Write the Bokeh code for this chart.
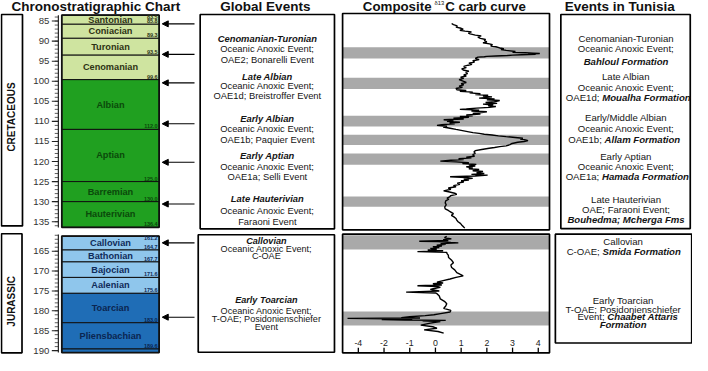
import math
from bokeh.plotting import figure
from bokeh.layouts import column
from bokeh.models import Range1d, Arrow, NormalHead, ColumnDataSource
from bokeh.core.properties import value
from bokeh.embed import file_html
from bokeh.resources import INLINE

# ---------------- data ----------------
cret_stages = ["Santonian", "Coniacian", "Turonian", "Cenomanian",
               "Albian", "Aptian", "Barremian", "Hauterivian"]
cret_top = [83.5, 85.8, 89.3, 93.5, 99.6, 112.0, 125.0, 130.0]
cret_base = [85.8, 89.3, 93.5, 99.6, 112.0, 125.0, 130.0, 136.4]
cret_base_labels = ["85.8", "89.3", "93.5", "99.6", "112.0", "125.0", "130.0", "136.4"]

jur_stages = ["Callovian", "Bathonian", "Bajocian", "Aalenian",
              "Toarcian", "Pliensbachian", ""]
jur_top = [161.2, 164.7, 167.7, 171.6, 175.6, 183.0, 189.6]
jur_base = [164.7, 167.7, 171.6, 175.6, 183.0, 189.6, 190.5]
jur_base_labels = ["164.7", "167.7", "171.6", "175.6", "183.0", "189.6", ""]

cret_ticks = [85, 90, 95, 100, 105, 110, 115, 120, 125, 130, 135]
jur_ticks = [165, 170, 175, 180, 185, 190]

cret_arrow_ages = [85.7, 93.3, 100.4, 110.6, 120.2, 130.6]
jur_arrow_ages = [162.9, 181.6]

cret_band_top = [91.5, 99.1, 108.6, 113.3, 118.0, 128.7]
cret_band_base = [94.3, 101.9, 111.3, 115.9, 120.8, 131.3]
jur_band_top = [161.0, 180.2]
jur_band_base = [164.6, 183.7]

d13c_ticks = [-3, -2, -1, 0, 1, 2, 3, 4]
d13c_tick_labels = ["-4", "-2", "-1", "0", "1", "2", "3", "4"]

cret_age = [
    85.6, 85.9, 86.2, 86.5, 86.8, 87.0, 87.3, 87.5, 87.7, 88.0, 88.2, 88.5, 88.7, 89.0,
    89.3, 89.6, 89.9, 90.2, 90.4, 90.7, 90.9, 91.2, 91.4, 91.7, 91.9, 92.1, 92.3, 92.6,
    92.8, 92.9, 93.0, 93.1, 93.2, 93.3, 93.4, 93.5, 93.6, 93.7, 93.8, 93.9, 94.0,
    94.3, 94.6, 94.9, 95.2, 95.5, 95.8, 96.0, 96.3, 96.6, 96.9, 97.2, 97.5, 97.8, 98.1,
    98.4, 98.7, 99.0, 99.3, 99.6, 99.9, 100.3, 100.6, 100.9, 101.2, 101.5, 101.8, 102.1,
    102.3, 102.5, 102.7, 102.9, 103.1, 103.3, 103.5, 103.7, 103.9, 104.2, 104.4, 104.6,
    104.8, 105.1, 105.3, 105.5, 105.7, 105.9, 106.1, 106.3, 106.5, 106.7, 106.9, 107.0,
    107.2, 107.4, 107.6, 107.8, 108.0, 108.2, 108.4, 108.6, 108.8, 109.0, 109.2, 109.4,
    109.6, 109.8, 110.0, 110.2, 110.4, 110.6, 110.8, 111.0, 111.2, 111.4, 111.7, 112.0,
    112.3, 112.6, 112.8, 113.0, 113.2, 113.4, 113.6, 113.8, 114.0, 114.2, 114.4, 114.6,
    114.8, 115.0, 115.2, 115.5, 115.8, 116.1, 116.3, 116.5, 116.7, 117.0, 117.3, 117.6,
    118.0, 118.3, 118.7,
    118.9, 119.1, 119.3, 119.5, 119.7, 119.9, 120.1, 120.3, 120.5, 120.7, 120.9, 121.1,
    121.3, 121.6, 121.8, 122.0, 122.3, 122.5, 122.8, 123.0, 123.2, 123.4, 123.6, 123.8,
    124.0, 124.2, 124.4, 124.6, 124.8, 125.1, 125.4, 125.7, 126.0, 126.3, 126.6, 126.9,
    127.3, 127.6, 127.9, 128.2, 128.5, 128.8, 129.1, 129.4,
    129.8, 130.3, 130.8, 131.3, 131.8, 132.2, 132.6, 133.0, 133.4, 133.8, 134.2, 134.6,
    135.0, 135.4, 135.8, 136.2, 136.6]
cret_d13c = [
    0.63, 0.70, 0.85, 0.80, 1.00, 1.08, 0.95, 1.15, 1.40, 1.28, 1.35, 1.55, 1.78, 1.65,
    1.75, 1.95, 1.90, 2.00, 1.85, 2.10, 2.22, 2.15, 2.35, 2.50, 2.66, 2.55, 2.75, 3.11,
    3.00, 3.50, 3.80, 4.06, 3.60, 3.90, 3.35, 3.00, 2.80, 2.35, 2.00, 1.90, 1.65,
    1.55, 1.70, 1.45, 1.52, 1.30, 1.42, 1.27, 1.10, 1.20, 1.02, 1.08, 1.30, 1.18, 1.25,
    1.10, 1.20, 0.98, 1.10, 0.92, 1.05, 1.20, 1.00, 1.10, 0.92, 1.05, 0.80, 0.83,
    1.20, 0.95, 1.45, 1.33, 1.75, 1.55, 2.05, 1.85, 2.20, 1.70, 2.30, 2.00,
    2.50, 2.30, 1.95, 2.40, 1.85, 2.25, 2.05, 2.35, 2.10, 1.60, 1.20, 0.95,
    1.70, 1.40, 2.00, 1.80, 1.45, 1.75, 1.20, 1.45, 0.95, 1.30, 0.70, 1.10,
    0.32, 0.70, 0.45, 0.95, 0.55, 0.75, 0.25, 0.06, 0.45, 0.30, 0.57, 0.80,
    1.05, 1.30, 1.46, 1.70, 1.90, 2.20, 2.45, 2.75, 3.10, 3.40, 3.30, 3.50,
    3.60, 3.45, 3.20, 2.98, 2.90, 2.75, 2.50, 2.30, 2.09, 1.80, 1.55, 1.50,
    1.55, 1.45, 1.52,
    1.20, 1.40, 0.90, 1.10, 0.60, 0.19, 0.80, 1.30, 1.05, 1.59, 1.30, 1.55,
    1.20, 1.45, 1.30, 1.70, 1.45, 1.85, 1.60, 1.90, 1.40, 2.03, 1.55, 0.57,
    1.20, 1.45, 1.10, 1.30, 1.00, 1.10, 0.85, 0.95, 0.70, 0.80, 0.50, 0.60,
    0.32, 0.55, 0.75, 0.83, 0.60, 0.55, 0.45, 0.52,
    0.40, 0.38, 0.42, 0.36, 0.38, 0.50, 0.60, 0.70, 0.62, 0.72, 0.80, 0.83,
    0.88, 0.97, 1.02, 1.08, 1.14]

jur_age = [
    161.3, 161.6, 161.9, 162.1, 162.3, 162.5, 162.6, 162.8, 162.9, 163.1, 163.3, 163.5,
    163.7, 163.9, 164.1, 164.3, 164.5, 164.7, 164.9, 165.1, 165.3, 165.6, 166.0, 166.6,
    167.2, 167.9, 168.5, 169.1, 169.7, 170.4, 170.8, 171.2, 171.6, 172.0, 172.4, 172.8,
    173.0, 173.2, 173.5, 173.7, 173.9, 174.1, 174.4, 174.6, 175.0, 175.3, 175.5, 175.7,
    176.3, 177.0, 177.6, 178.2, 178.8, 179.4, 179.9, 180.3, 180.7, 181.0, 181.2, 181.5,
    181.7, 181.8, 181.9, 182.0, 182.1, 182.2, 182.3, 182.4, 182.5, 182.7, 183.1, 183.6,
    184.0, 184.4, 184.8, 185.2, 185.6]
jur_d13c = [
    0.44, 0.35, 0.62, 0.30, 0.50, -0.63, 0.10, 0.60, 0.89, 0.20, 0.40, 0.05,
    0.25, -0.10, 0.15, -0.20, 0.05, -0.30, 0.30, -0.70, 0.44, 0.45, 0.50, 0.51,
    0.62, 0.70, 0.60, 0.63, 0.75, 0.83, 0.95, 1.08, 0.80, 0.57, 0.30, 0.06,
    0.30, -0.10, 0.25, -0.70, 0.10, 0.19, -0.05, -0.20, 0.15, -1.14, 0.00, 0.06,
    0.15, 0.19, 0.35, 0.44, 0.40, 0.32, 0.60, 0.57, 0.20, -0.06, -0.40, -1.00,
    -1.33, -0.60, -3.42, -1.90, -0.90, -2.09, -1.20, 0.40, -0.50, 0.19, -0.20, -0.57,
    -0.10, 0.06, -0.44, 0.10, 0.32]

glob_cret_lines = ["Cenomanian-Turonian", "Oceanic Anoxic Event;", "OAE2; Bonarelli Event",
                   "Late Albian", "Oceanic Anoxic Event;", "OAE1d; Breistroffer Event",
                   "Early Albian", "Oceanic Anoxic Event;", "OAE1b; Paquier Event",
                   "Early Aptian", "Oceanic Anoxic Event;", "OAE1a; Selli Event",
                   "Late Hauterivian", "Oceanic Anoxic Event;", "Faraoni Event"]
glob_jur_lines = ["Callovian", "Oceanic Anoxic Event;", "C-OAE",
                  "Early Toarcian", "Oceanic Anoxic Event;", "T-OAE; Posidonienschiefer", "Event"]
glob_jur_heads = [True, False, False, True, False, False, False]

tun_cret_lines = [("Cenomanian-Turonian", ""), ("Oceanic Anoxic Event;", ""), ("", "Bahloul Formation"),
                  ("Late Albian", ""), ("Oceanic Anoxic Event;", ""), ("OAE1d;", "Moualha Formation"),
                  ("Early/Middle Albian", ""), ("Oceanic Anoxic Event;", ""), ("OAE1b;", "Allam Formation"),
                  ("Early Aptian", ""), ("Oceanic Anoxic Event;", ""), ("OAE1a;", "Hamada Formation"),
                  ("Late Hauterivian", ""), ("OAE; Faraoni Event;", ""), ("", "Bouhedma; Mcherga Fms")]
tun_jur_lines = [("Callovian", ""), ("C-OAE;", "Smida Formation"),
                 ("Early Toarcian", ""), ("T-OAE; Posidonienschiefer", ""),
                 ("Event;", "Chaabet Attaris"), ("", "Formation")]

# ---------------- layout helpers ----------------
FONT = "Liberation Sans"
W = 692
H_TOP = 231
H_BOT = 124
XMAX = 708
X0 = 445.0     # panel x of d13C = 0
PXU = 26.3     # panel px per permil


def ya(y):
    return 85 + (y - 25) / 4.1


def yj(y):
    return 165 + (y - 260) / 4.04


def make_fig(h, ystart, yend):
    p = figure(width=W, height=h, x_range=Range1d(0, XMAX), y_range=Range1d(ystart, yend),
               x_axis_type=None, y_axis_type=None, toolbar_location=None, output_backend="svg",
               min_border_left=0, min_border_right=0, min_border_top=0, min_border_bottom=0,
               outline_line_color=None, background_fill_color="white", border_fill_color="white")
    p.extra_x_ranges = {"d13c": Range1d((0 - X0) / PXU, (XMAX - X0) / PXU)}
    return p


def txt(p, x, y, s, size, style="normal", align="center", baseline="middle",
        color="#151515", angle=0.0, xr=None):
    kw = {}
    if xr:
        kw["x_range_name"] = xr
    p.text(x=[x], y=[y], text=[s], text_font=value(FONT), text_font_size=f"{size}px",
           text_font_style=style, text_align=align, text_baseline=baseline,
           text_color=color, angle=angle, **kw)


def box(p, l, r, t, b, fill="white", lw=1.7):
    p.quad(left=[l], right=[r], top=[t], bottom=[b], fill_color=fill,
           line_color="black", line_width=lw)


LIGHT_GREEN = "#cfe4a0"
GREEN = "#20a020"
LIGHT_BLUE = "#8fc6ec"
DARK_BLUE = "#1f6db6"


def draw_axis(p, conv, ticks, y_top, y_bot):
    amin, amax = conv(y_top), conv(y_bot)
    minors = [a for a in range(math.ceil(amin), math.floor(amax) + 1)]
    p.segment(x0=55.5, x1=59.2, y0=minors, y1=minors, line_color="#333", line_width=0.8)
    p.segment(x0=52.5, x1=59.2, y0=ticks, y1=ticks, line_color="#222", line_width=1.1)
    p.segment(x0=[59.2], x1=[59.2], y0=[amin], y1=[amax], line_color="#222", line_width=1.2)
    p.text(x=50, y=ticks, text=[str(t) for t in ticks], text_font=value(FONT),
           text_font_size="9.6px", text_align="right", text_baseline="middle", text_color="#333")


def draw_stages(p, names, tops, bases, labels, colors, txtcolors):
    src = ColumnDataSource(dict(top=tops, bottom=bases, fill=colors, name=names,
                                mid=[(a + b) / 2 for a, b in zip(tops, bases)],
                                lab=labels, tc=txtcolors))
    p.quad(left=62.7, right=162.3, top="top", bottom="bottom", fill_color="fill",
           line_color="#111", line_width=1.0, source=src)
    p.quad(left=[62.7], right=[162.3], top=[tops[0]], bottom=[bases[-1]], fill_color=None,
           line_color="#111", line_width=1.7)
    p.text(x=112.5, y="mid", text="name", text_color="tc", text_font=value(FONT),
           text_font_size="9.2px", text_font_style="bold", text_align="center",
           text_baseline="middle", source=src)
    p.text(x=160.8, y="bottom", text="lab", text_color="tc", text_font=value(FONT),
           text_font_size="5.5px", text_font_style="bold", text_align="right",
           text_baseline="bottom", y_offset=-1, source=src)


def draw_arrows(p, ages):
    src = ColumnDataSource(dict(xs=[198.5] * len(ages), xe=[165.5] * len(ages), y=ages))
    p.add_layout(Arrow(end=NormalHead(size=6, fill_color="black", line_color="black", line_width=1),
                       x_start="xs", y_start="y", x_end="xe", y_end="y", source=src,
                       line_color="black", line_width=1.1))


def mixed_line(p, x_center, split, y, reg, bold, size):
    if reg and bold:
        txt(p, split - 1.4, y, reg, size, align="right")
        txt(p, split + 1.4, y, bold, size, style="bold italic", align="left")
    elif bold:
        txt(p, x_center, y, bold, size, style="bold italic")
    else:
        txt(p, x_center, y, reg, size)


# ---------------- top (Cretaceous) ----------------
top = make_fig(H_TOP, ya(240), ya(4))

txt(top, 97.5, ya(10.5), "Chronostratigraphic Chart", 13.5, "bold", color="#111")
txt(top, 271, ya(10.5), "Global Events", 13.5, "bold", color="#111")
txt(top, 441, ya(10.5), "Composite", 13.3, "bold", align="right", color="#111")
txt(top, 444, ya(6.5), "\u03b413", 5.8, "normal", align="left", color="#111")
txt(top, 455, ya(10.5), "C carb curve", 13.3, "bold", align="left", color="#111")
txt(top, 633.5, ya(10.5), "Events in Tunisia", 13.5, "bold", color="#111")

box(top, 1, 22.5, ya(18.3), ya(234.3))
txt(top, 11.5, ya(123), "CRETACEOUS", 10, "bold", angle=math.pi / 2, color="#111")

draw_axis(top, ya, cret_ticks, 19, 236)
draw_stages(top, cret_stages, cret_top, cret_base, cret_base_labels,
            [LIGHT_GREEN if t < 99.6 else GREEN for t in cret_top],
            ["#2e3314" if t < 99.6 else "#0b4a0b" for t in cret_top])
txt(top, 160.8, cret_top[0], "83.5", 5.5, "bold", align="right", baseline="top", color="#2e3314")
draw_arrows(top, cret_arrow_ages)

# global events box
box(top, 204.3, 341.7, ya(18.3), ya(237.3))
gc_y = [43.3, 53.3, 64.3, 81.7, 90.7, 100.7, 124.3, 135, 145.7, 162.7, 174, 184.3, 206.7, 218.3, 229.3]
for i, (s, yy) in enumerate(zip(glob_cret_lines, gc_y)):
    txt(top, 273, ya(yy), s, 9.4, "bold italic" if i % 3 == 0 else "normal")

# composite curve panel
top.quad(left=350, right=561.7, top=cret_band_top, bottom=cret_band_base,
         fill_color="#a9a9a9", line_color=None)
top.line(x=cret_d13c, y=cret_age, x_range_name="d13c", line_color="black", line_width=1.4)
box(top, 350, 561.7, ya(17.3), ya(238.3), fill=None)

# Tunisia
box(top, 573.3, 705.7, ya(18.3), ya(237))
tc_y = [43.3, 53.3, 66.7, 81.7, 92.7, 103.3, 124, 135, 145.7, 163.3, 173.3, 183.3, 207.3, 217.3, 227.7]
tc_split = {5: 614.2, 8: 616.6, 11: 614.0}
for i, ((reg, bold), yy) in enumerate(zip(tun_cret_lines, tc_y)):
    mixed_line(top, 640, tc_split.get(i, 640), ya(yy), reg, bold, 9.6)

# ---------------- bottom (Jurassic) ----------------
bot = make_fig(H_BOT, yj(366), yj(240))

box(bot, 1, 22, yj(242.3), yj(363.3))
txt(bot, 11.5, yj(311), "JURASSIC", 10, "bold", angle=math.pi / 2, color="#111")

draw_axis(bot, yj, jur_ticks, 243, 363)
draw_stages(bot, jur_stages, jur_top, jur_base, jur_base_labels,
            [LIGHT_BLUE if t < 175.6 else DARK_BLUE for t in jur_top],
            ["#0f2c5a" if t < 175.6 else "#0b2550" for t in jur_top])
txt(bot, 160.8, jur_top[0], "161.2", 5.5, "bold", align="right", baseline="top", color="#0f2c5a")
draw_arrows(bot, jur_arrow_ages)

box(bot, 202.3, 341.7, yj(243.3), yj(362.7))
gj_y = [250, 257.7, 265, 310, 321, 328.7, 336.7]
for s, yy, h in zip(glob_jur_lines, gj_y, glob_jur_heads):
    txt(bot, 272, yj(yy), s, 9.1, "bold italic" if h else "normal")

bot.quad(left=350, right=561.7, top=jur_band_top, bottom=jur_band_base,
         fill_color="#a9a9a9", line_color=None)
bot.line(x=jur_d13c, y=jur_age, x_range_name="d13c", line_color="black", line_width=1.4)
bot.segment(x0=d13c_ticks, x1=d13c_ticks, y0=yj(358), y1=yj(363), x_range_name="d13c",
            line_color="black", line_width=1.3)
bot.text(x=d13c_ticks, y=yj(353.5), text=d13c_tick_labels, x_range_name="d13c",
         text_font=value(FONT), text_font_size="8.8px", text_align="center",
         text_baseline="middle", text_color="#222")
box(bot, 350, 561.7, yj(242.7), yj(363.3), fill=None)

box(bot, 567.7, 707.2, yj(242.7), yj(353.3))
tj_y = [250, 260, 310, 319.3, 326.7, 335]
tj_split = {1: 614.5, 4: 619.5}
for i, ((reg, bold), yy) in enumerate(zip(tun_jur_lines, tj_y)):
    mixed_line(bot, 637, tj_split.get(i, 637), yj(yy), reg, bold, 9.6)

layout = column(top, bot, spacing=0)
open("out.html", "w").write(file_html(layout, INLINE))
